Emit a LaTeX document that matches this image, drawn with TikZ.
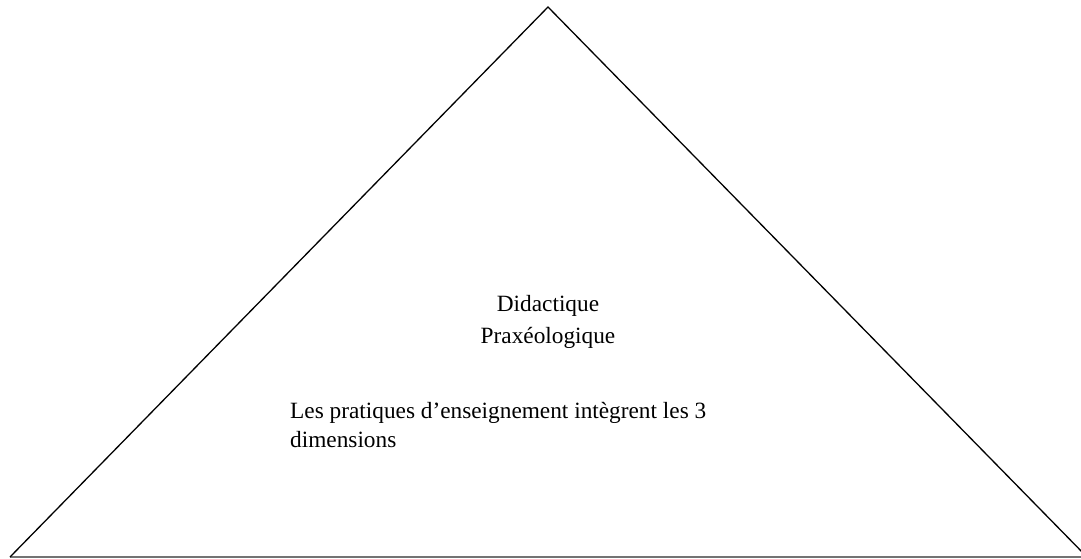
\documentclass[tikz,border=0pt]{standalone}
\usepackage{fontspec}
\setmainfont{Liberation Serif}
\begin{document}
\begin{tikzpicture}[x=1pt,y=-1pt,
  side/.style={line width=1.3pt,black},
  baseline/.style={line width=1.3pt,black!55},
  title/.style={font=\fontsize{23.3}{32}\selectfont,align=center,inner sep=0pt},
  body/.style={font=\fontsize{23.3}{29}\selectfont,align=left,inner sep=0pt}]
\useasboundingbox (0,0) rectangle (1081,558);
\coordinate (A) at (548,7);
\coordinate (L) at (10,557);
\coordinate (R) at (1087,557);
\coordinate (E) at (1081,557);
\draw[baseline] (L) -- (E);
\draw[side] (L) -- (A) -- (R);
\node[title,anchor=base] (t) at (548,343) {Didactique\\Praxéologique};
\node[body,anchor=base west] (b) at (290,447) {Les pratiques d’enseignement intègrent les 3\\dimensions};
\end{tikzpicture}
\end{document}
